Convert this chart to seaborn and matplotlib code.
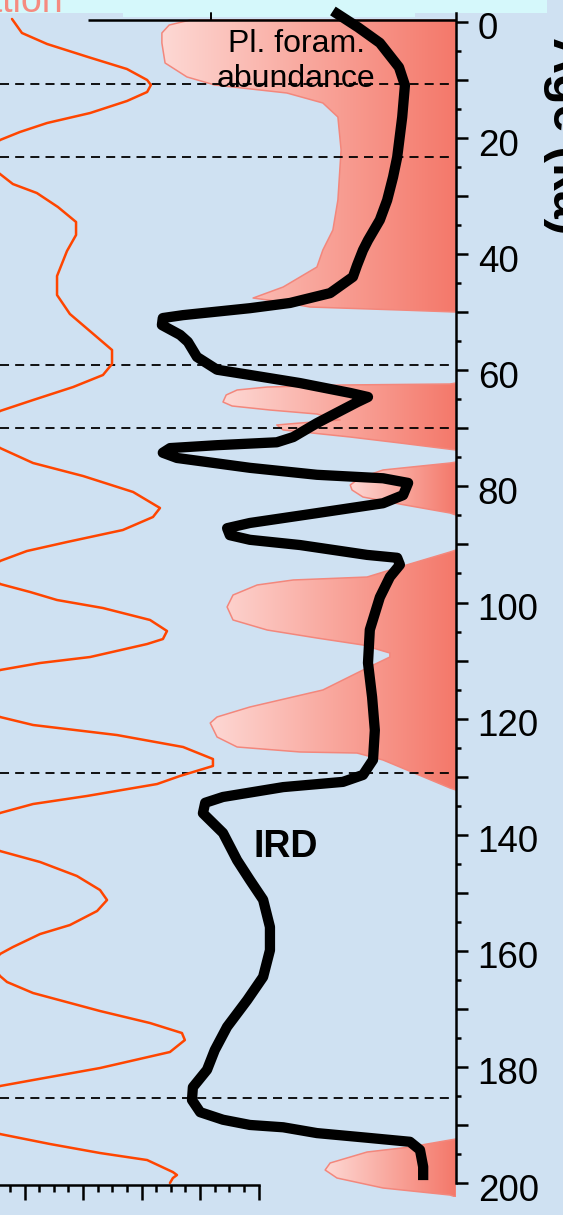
import numpy as np
import matplotlib
matplotlib.use("Agg")
import matplotlib.pyplot as plt
import seaborn as sns
from matplotlib.colors import LinearSegmentedColormap
from matplotlib.patches import Rectangle
from matplotlib.ticker import MultipleLocator, FuncFormatter
from matplotlib.transforms import ScaledTranslation

sns.set_theme(style="white")
plt.rcParams["font.family"] = ["Liberation Sans", "DejaVu Sans"]

# ---------------------------------------------------------------- data
# Ice-rafted debris (relative units) against age (ka)
ird_age = [-1.9, 0.9, 3.6, 7.8, 10.9, 16.4, 23.3, 26.7, 30.7, 34.1, 37.6, 39.3,
           41.9, 43.9, 46.7, 48.4, 49.3, 50.5, 51.0, 52.2, 53.9, 55.1, 57.7, 59.9,
           60.8, 62.2, 63.9, 64.6, 65.5, 69.1, 71.5, 72.4, 72.9, 73.4, 74.2, 75.1,
           76.8, 78.0, 78.6, 79.4, 81.5, 82.9, 84.6, 86.3, 87.2, 88.4, 89.2, 90.1,
           91.8, 92.3, 93.5, 95.6, 99.1, 104.7, 110.4, 116.3, 122.0, 127.1, 129.7,
           130.9, 131.8, 133.5, 134.5, 136.3, 139.7, 144.4, 147.8, 151.2, 155.9,
           159.9, 164.5, 168.5, 173.1, 177.1, 180.5, 183.5, 185.7, 187.8, 189.1,
           190.0, 190.4, 191.4, 192.2, 192.9, 194.3, 197.2, 199.5]
ird_val = [73.0, 78.5, 83.3, 87.5, 88.8, 88.2, 87.1, 86.2, 84.9, 83.3, 80.7, 79.6,
           78.3, 77.4, 72.4, 63.6, 54.8, 40.1, 35.7, 35.5, 39.5, 41.2, 43.2, 47.6,
           54.8, 65.8, 76.8, 80.7, 78.3, 69.5, 64.3, 60.7, 47.6, 37.3, 35.7, 38.8,
           54.8, 69.5, 84.0, 89.5, 88.4, 84.0, 69.5, 54.8, 49.8, 50.4, 54.8, 65.8,
           80.5, 87.1, 87.7, 85.5, 83.3, 81.1, 80.7, 81.6, 82.2, 81.8, 79.6,
           75.2, 62.1, 48.9, 45.0, 44.5, 48.9, 52.0, 54.8, 57.7, 59.2,
           59.2, 57.7, 54.2, 49.8, 47.1, 45.4, 42.3, 42.1, 43.9, 48.9,
           54.8, 62.1, 69.5, 80.5, 89.9, 92.1, 92.8, 92.8]

# Planktonic foraminifera abundance (%) against age (ka)
foram_age = [-0.34, 0.52, 1.89, 3.62, 7.06, 9.47, 10.85, 12.23, 13.95, 16.37, 22.05,
             30.66, 35.83, 39.28, 42.21, 45.65, 47.55, 48.06, 49.10, 49.61, 49.96,
             62.19, 62.36, 62.53, 62.88, 63.39, 64.25, 65.46, 66.15, 66.84, 67.53,
             68.56, 69.08, 69.42, 70.28, 71.49, 72.52, 73.73,
             75.80, 75.97, 77.17, 78.55, 79.76, 80.62, 81.83, 83.20, 84.58, 84.93,
             90.96, 91.30, 93.88, 95.61, 96.12, 96.98, 98.71, 100.77, 103.01, 104.74,
             106.12, 107.32, 108.70, 109.39, 111.63, 115.07, 118.00, 119.72, 120.76,
             123.17, 124.89, 125.75, 125.93, 127.13, 131.96, 132.30,
             192.42, 192.59, 193.80, 194.66, 196.55, 197.76, 199.14, 200.86, 202.07, 202.41]
foram_ab = [58.3, 62.9, 64.5, 64.5, 63.8, 59.0, 52.9, 37.1, 29.2, 25.9, 25.2,
            25.9, 27.0, 29.2, 30.5, 37.9, 44.5, 39.7, 32.0, 12.3, 0.0,
            0.0, 1.3, 24.8, 41.4, 48.0, 50.4, 51.1, 49.1, 40.8, 30.5,
            25.4, 34.2, 39.3, 37.9, 23.2, 12.3, 0.0,
            0.0, 1.3, 16.0, 21.1, 23.2, 22.8, 20.4, 11.2, 1.3, 0.0,
            0.0, 1.3, 12.3, 19.5, 35.7, 43.6, 48.9, 50.2, 48.9, 41.4,
            30.5, 20.4, 14.5, 14.5, 20.4, 29.2, 45.2, 52.4, 53.9,
            52.4, 48.0, 34.2, 21.7, 16.0, 1.3, 0.0,
            0.0, 1.3, 10.1, 19.5, 27.6, 28.7, 26.1, 16.0, 1.3, 0.0]

# Summer insolation (W/m2) against age (ka)
ins_age = [-0.52, 1.89, 3.79, 6.03, 8.10, 9.99, 10.85, 12.06, 13.61, 15.68, 17.40,
           18.95, 20.33, 23.26, 26.18, 27.91, 29.46, 31.87, 34.45, 36.69, 39.45,
           43.76, 47.03, 50.30, 53.57, 56.50, 58.91, 60.81, 62.88, 65.12, 67.01,
           70.28, 73.38, 75.97, 78.21, 80.96, 83.72, 85.27, 87.51, 89.58, 91.13,
           92.85, 94.75, 96.81, 98.19, 99.57, 100.95, 103.01, 104.91, 106.29,
           107.15, 109.39, 110.42, 111.63, 115.59, 119.72, 121.10, 122.83, 124.89,
           126.96, 128.16, 129.89, 131.27, 133.33, 134.71, 136.26, 139.53, 142.81,
           144.70, 147.11, 149.53, 151.25, 153.14, 155.56, 157.11, 159.35, 160.55,
           162.45, 164.34, 165.37, 167.27, 170.37, 172.44, 174.16, 175.37, 177.43,
           180.19, 182.26, 183.29, 187.42, 191.56, 193.28, 194.83, 196.04, 198.11,
           198.62, 199.14, 200.00]
ins_val = [455.7, 459.1, 467.7, 481.7, 495.0, 501.9, 503.2, 501.9, 495.0, 482.4, 467.7,
           458.4, 451.6, 444.8, 451.6, 456.0, 464.2, 471.4, 477.6, 477.6, 474.5,
           471.1, 471.1, 475.5, 483.1, 489.9, 489.9, 486.8, 476.6, 462.9, 451.6,
           444.1, 451.6, 462.9, 480.0, 497.1, 506.3, 503.9, 493.6, 474.5, 460.8,
           451.6, 447.5, 451.6, 461.9, 471.1, 486.8, 502.9, 508.7, 507.3,
           501.9, 482.4, 465.3, 451.6, 439.6, 451.6, 462.9, 491.6, 514.2,
           524.4, 524.4, 513.1, 505.3, 481.3, 462.9, 451.6, 442.0, 451.6,
           465.3, 477.9, 485.8, 488.2, 484.8, 475.5, 465.3, 456.0, 451.6,
           448.9, 451.6, 454.0, 462.9, 485.8, 502.9, 513.8, 514.8, 509.7,
           485.8, 462.9, 451.6, 437.9, 451.6, 468.7, 485.8, 501.9, 510.7,
           512.1, 510.7, 509.7]

# Climate transitions marked across the record (ka)
transition_ages = [10.7, 23.3, 59.1, 69.9, 129.4, 185.4]

age_ticks_major = 10
age_ticks_minor = 5
age_label_step = 20
ins_ticks = [460, 480, 500, 520, 540]

# ---------------------------------------------------------------- style
BLACK = "#000000"
BG = "#cfe1f2"
BAND = "#d5f8fb"
ORANGE = "#ff4500"
SALMON_TXT = "#f58b80"
PINK_EDGE = "#f3877c"
pink_cmap = LinearSegmentedColormap.from_list("pink", ["#fdd8d4", "#f9a79d", "#f4786a"])

W, H = 563, 1215
fig = plt.figure(figsize=(W / 100, H / 100), dpi=100)
fig.patch.set_facecolor(BG)


def fx(px):
    return px / W


def fy(py):
    return 1 - py / H


AX_RIGHT = 456

# strip of the panel above
fig.patches.append(Rectangle((0, fy(12.5)), fx(547), 12.5 / H, transform=fig.transFigure,
                             facecolor=BAND, edgecolor="none", zorder=-2))
fig.patches.append(Rectangle((fx(123), fy(17)), fx(415 - 123), 5 / H, transform=fig.transFigure,
                             facecolor=BAND, edgecolor="none", zorder=-2))

# ---------------------------------------------------------------- foram axis (main, age scale on the right)
ax = fig.add_axes([0, fy(1197), fx(AX_RIGHT), (1197 - 13) / H])
ax.set_facecolor("none")
YLIM = (202.41, -1.55)
ax.set_ylim(*YLIM)
ax.set_xlim(100, 0)

fa = np.array(foram_age)
fb = np.array(foram_ab)
cuts = [i + 1 for i in range(len(fb) - 1) if fb[i] == 0 and fb[i + 1] == 0]
for seg_age, seg_ab in zip(np.split(fa, cuts), np.split(fb, cuts)):
    poly = ax.fill_betweenx(seg_age, 0, seg_ab, facecolor="none",
                            edgecolor=PINK_EDGE, linewidth=1.1, zorder=2)
    grad = np.linspace(0, 1, 256).reshape(1, -1)
    im = ax.imshow(grad, cmap=pink_cmap, aspect="auto", interpolation="bicubic",
                   extent=(seg_ab.max(), 0, seg_age.max(), seg_age.min()), zorder=1)
    im.set_clip_path(poly.get_paths()[0], transform=ax.transData)

ax.set_xlim(100, 0)
ax.set_ylim(*YLIM)

ax.hlines(transition_ages, 100, 0.9, colors=BLACK, linewidth=1.3,
          linestyles=(0, (5, 3.4)), zorder=3)

for s in ["left", "top", "bottom"]:
    ax.spines[s].set_visible(False)
ax.spines["right"].set_bounds(-1.55, 200)
ax.spines["right"].set_linewidth(1.8)
ax.spines["right"].set_color(BLACK)
ax.yaxis.tick_right()
ax.yaxis.set_major_locator(MultipleLocator(age_ticks_major))
ax.yaxis.set_minor_locator(MultipleLocator(age_ticks_minor))
ax.yaxis.set_major_formatter(FuncFormatter(
    lambda v, p: f"{v:.0f}" if (round(v) % age_label_step == 0 and 0 <= v <= 200) else ""))
ax.tick_params(axis="y", which="major", direction="out", length=8.6, width=1.8,
               colors=BLACK, labelsize=26.5, pad=7, right=True, left=False)
ax.tick_params(axis="y", which="minor", direction="out", length=3.8, width=1.8,
               colors=BLACK, right=True, left=False)
ax.set_xticks([])

# upper frame line with its tick
ax.plot([80.7, 0], [-0.35, -0.35], color=BLACK, lw=1.8, clip_on=False,
        solid_capstyle="butt", zorder=4)
ax.plot([53.7, 53.7], [-0.35, -1.55], color=BLACK, lw=1.4, clip_on=False, zorder=4)

# ---------------------------------------------------------------- insolation axis
ax_ins = fig.add_axes([0, fy(1185), fx(AX_RIGHT), (1185 - 13) / H])
ax_ins.set_facecolor("none")
sns.lineplot(x=ins_val, y=ins_age, sort=False, estimator=None, orient="y",
             color=ORANGE, linewidth=1.8, ax=ax_ins)
ax_ins.set_xlim(451.6, 607.5)
ax_ins.set_ylim(200.34, -1.55)
for s in ["left", "top", "right"]:
    ax_ins.spines[s].set_visible(False)
ax_ins.spines["bottom"].set_bounds(451.6, 540)
ax_ins.spines["bottom"].set_linewidth(1.8)
ax_ins.spines["bottom"].set_color(BLACK)
ax_ins.set_yticks([])
ax_ins.set_xticks(ins_ticks)
ax_ins.set_xticks([t for t in range(455, 541, 5) if t not in ins_ticks], minor=True)
ax_ins.tick_params(axis="x", which="major", direction="out", length=10.8, width=1.8,
                   colors=BLACK, labelsize=22, pad=15.5, bottom=True)
ax_ins.tick_params(axis="x", which="minor", direction="out", length=5, width=1.8,
                   colors=BLACK, bottom=True)
ax_ins.set_xlabel("")
ax_ins.set_ylabel("")

# ---------------------------------------------------------------- IRD axis
ax_ird = fig.add_axes([0, fy(1197), fx(AX_RIGHT), (1197 - 13) / H])
ax_ird.set_facecolor("none")
sns.lineplot(x=ird_val, y=ird_age, sort=False, estimator=None, orient="y",
             color=BLACK, linewidth=7.4, ax=ax_ird)
for ln in ax_ird.lines:
    ln.set_clip_on(False)
    ln.set_solid_capstyle("butt")
    ln.set_solid_joinstyle("round")
ax_ird.set_xlim(0, 100)
ax_ird.set_ylim(*YLIM)
ax_ird.axis("off")

# ---------------------------------------------------------------- labels
fig.text(fx(296), fy(52), "Pl. foram.", ha="center", va="baseline", fontsize=23, color=BLACK)
fig.text(fx(296), fy(87), "abundance", ha="center", va="baseline", fontsize=23, color=BLACK)
fig.text(fx(286), fy(857), "IRD", ha="center", va="baseline", fontsize=27,
         fontweight="bold", color=BLACK)
fig.text(fx(63), fy(12), "Insolation", ha="right", va="baseline", fontsize=27,
         color=SALMON_TXT)
fig.text(fx(553), fy(136), "Age (ka)", rotation=-90, rotation_mode="anchor",
         ha="center", va="baseline", fontsize=36, fontweight="bold", color=BLACK)

# nudge the age labels slightly below their ticks
fig.canvas.draw()
shift = ScaledTranslation(0, -4 / 100, fig.dpi_scale_trans)
for tk in ax.yaxis.get_major_ticks():
    tk.label2.set_transform(tk.label2.get_transform() + shift)

fig.savefig("out.png", dpi=100, facecolor=BG)
